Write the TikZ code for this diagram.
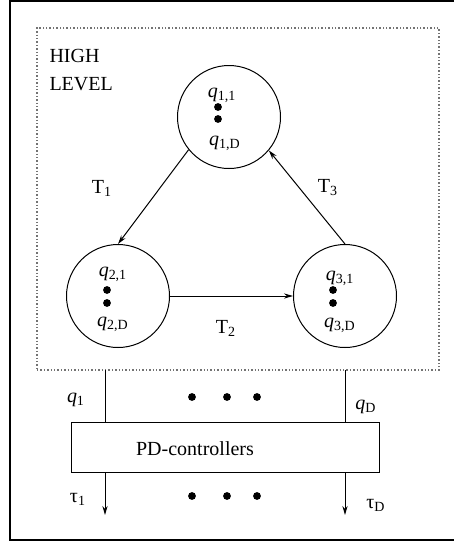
\documentclass[tikz,border=0pt]{standalone}
\usepackage{fontspec}
\setmainfont{Liberation Serif}
\usetikzlibrary{arrows.meta,positioning,calc}
\definecolor{framegray}{gray}{0.45}
\newcommand{\qvar}[1]{\textit{q}\textsubscript{#1}}

\begin{document}
\begin{tikzpicture}[
  x=0.5pt, y=-0.5pt, line width=0.5pt,
  state/.style={circle, draw=black, minimum size=51.5pt, inner sep=0pt},
  bigdot/.style={circle, fill=black, minimum size=3.9pt, inner sep=0pt},
  ctrl/.style={rectangle, draw=black, minimum width=154pt, minimum height=25pt, inner sep=0pt},
  level/.style={rectangle, draw=framegray, densely dotted, line width=0.7pt, minimum width=201pt, minimum height=171pt, inner sep=0pt},
  lbl/.style={inner sep=0pt},
  arrow/.style={-{Stealth[length=4.5pt,width=2.6pt]}, draw=black}
]
\useasboundingbox (0,0) rectangle (454,541);
\clip (0,0) rectangle (454,541);
% outer frame, open on the right
\draw[line width=1pt] (10,1) rectangle (480,540);

% high level block
\node[level] (hl) at (238,199) {};
\node[lbl, anchor=base west] (hi) at (49,62) {HIGH};
\node[lbl, anchor=base west] (lev) at (49,90) {LEVEL};

% the three states
\node[state] (c1) at (229,117) {};
\node[state] (c2) at (118,296) {};
\node[state] (c3) at (345,296) {};

\node[lbl] (q11) at (222,95) {\qvar{1,1}};
\node[bigdot] (d11) at (218,107) {};
\node[bigdot] (d12) at (218,119) {};
\node[lbl] (q1d) at (225,143) {\qvar{1,D}};

\node[lbl] (q21) at (113,274) {\qvar{2,1}};
\node[bigdot] (d21) at (107,290) {};
\node[bigdot] (d22) at (107,303) {};
\node[lbl] (q2d) at (113,324) {\qvar{2,D}};

\node[lbl] (q31) at (340,278) {\qvar{3,1}};
\node[bigdot] (d31) at (333,290) {};
\node[bigdot] (d32) at (333,303) {};
\node[lbl] (q3d) at (340,325) {\qvar{3,D}};

% transitions
\draw[arrow] (c1.219) -- (c2.north);
\draw[arrow] (c2.east) -- (c3.west);
\draw[arrow] (c3.north) -- (c1.320);
\node[lbl] (t1) at (102,188) {T\textsubscript{1}};
\node[lbl] (t2) at (226,328) {T\textsubscript{2}};
\node[lbl] (t3) at (328,188) {T\textsubscript{3}};

% controller block
\node[ctrl] (pd) at (225,447) {};
\node[lbl] (pdtext) at (195,449) {PD-controllers};

\coordinate (in1) at (105,370);
\coordinate (inD) at (345,370);
\coordinate (out1) at (105,515);
\coordinate (outD) at (345,515);
\draw (in1) -- (in1 |- pd.north);
\draw (inD) -- (inD |- pd.north);
\draw[arrow] (out1 |- pd.south) -- (out1);
\draw[arrow] (outD |- pd.south) -- (outD);

\node[lbl] (q1) at (76,400) {\qvar{1}};
\node[lbl] (qD) at (366,407) {\qvar{D}};
\node[lbl] (tau1) at (78,499) {τ\textsubscript{1}};
\node[lbl] (tauD) at (376,505) {τ\textsubscript{D}};

% dots between the channels
\foreach \x/\n in {192/a,227/b,257/c} {
  \node[bigdot] (up\n) at (\x,397) {};
  \node[bigdot] (dn\n) at (\x,496) {};
}
\end{tikzpicture}
\end{document}
